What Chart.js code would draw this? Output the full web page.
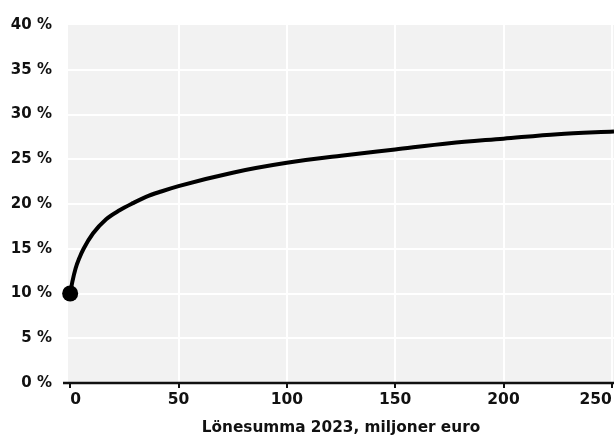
<!DOCTYPE html>
<html lang="sv">
<head>
  <meta charset="UTF-8">
  <title>Lönesumma 2023</title>
  <style>
    html, body { margin: 0; padding: 0; background: #fff; overflow: hidden; }
    canvas { display: block; }
  </style>
</head>
<body>
  <canvas id="chart" width="614" height="441"></canvas>

  <script src="https://cdn.jsdelivr.net/npm/chart.js"></script>
  <script>
    // values (x = miljoner euro, y = procent)
    const payroll = [0, 1, 2.5, 4.3, 6.2, 10.5, 16.6, 22.8, 29, 35, 42, 50, 75, 100, 125, 150, 175, 200, 225, 251];
    const share = [10, 11.3, 12.8, 14.0, 15.0, 16.7, 18.3, 19.3, 20.1, 20.8, 21.4, 22.0, 23.5, 24.6, 25.4, 26.1, 26.8, 27.3, 27.8, 28.1];
    const xTicks = [0, 50, 100, 150, 200, 250];
    const yTicks = [0, 5, 10, 15, 20, 25, 30, 35, 40];
    const xTitle = 'Lönesumma 2023, miljoner euro';

    const FONT = '"DejaVu Sans", Verdana, sans-serif';

    // gray panel behind the plot + axis line that sticks out a bit to the left
    const panel = {
      id: 'panel',
      beforeDraw(chart) {
        const { ctx, chartArea: a } = chart;
        ctx.save();
        ctx.fillStyle = '#f2f2f2';
        ctx.fillRect(a.left, a.top, a.right - a.left, a.bottom - a.top);
        ctx.restore();
      },
      afterDatasetsDraw(chart) {
        const { ctx, chartArea: a } = chart;
        ctx.save();
        ctx.strokeStyle = '#111';
        ctx.lineWidth = 2.5;
        ctx.beginPath();
        ctx.moveTo(a.left - 5, a.bottom);
        ctx.lineTo(a.right, a.bottom);
        ctx.stroke();
        ctx.restore();
      }
    };

    new Chart(document.getElementById('chart'), {
      type: 'line',
      data: {
        datasets: [{
          data: payroll.map((x, i) => ({ x, y: share[i] })),
          borderColor: '#000',
          borderWidth: 4,
          cubicInterpolationMode: 'monotone',
          pointRadius: payroll.map((x, i) => i === 0 ? 8 : 0),
          pointBackgroundColor: '#000',
          pointBorderWidth: 0,
          clip: false
        }]
      },
      options: {
        responsive: false,
        animation: false,
        layout: { autoPadding: false, padding: { top: 13, right: 0, left: 0, bottom: 4 } },
        plugins: { legend: { display: false }, tooltip: { enabled: false } },
        scales: {
          x: {
            type: 'linear',
            min: -1,
            max: 251,
            afterBuildTicks: s => { s.ticks = xTicks.map(v => ({ value: v })); },
            afterFit: s => { s.paddingLeft = 0; s.paddingRight = 0; },
            grid: {
              color: c => c.tick && c.tick.value === 0 ? 'rgba(0,0,0,0)' : '#fff',
              lineWidth: 2,
              tickColor: '#111',
              tickWidth: 2,
              tickLength: 5
            },
            border: { display: false },
            ticks: {
              align: 'inner',
              color: '#111',
              padding: 3,
              maxRotation: 0,
              font: { family: FONT, size: 15.5, weight: 'bold' }
            },
            title: {
              display: true,
              text: xTitle,
              color: '#111',
              padding: { top: 6, bottom: 0 },
              font: { family: FONT, size: 15.3, weight: 'bold' }
            }
          },
          y: {
            min: 0,
            max: 40,
            afterBuildTicks: s => { s.ticks = yTicks.map(v => ({ value: v })); },
            afterFit: s => { s.width = 68; },
            grid: {
              color: c => c.tick && (c.tick.value === 0 || c.tick.value === 40) ? 'rgba(0,0,0,0)' : '#fff',
              lineWidth: 2,
              drawTicks: false
            },
            border: { display: false },
            ticks: {
              color: '#111',
              padding: 16,
              callback: v => v + ' %',
              font: { family: FONT, size: 15, weight: 'bold' }
            }
          }
        }
      },
      plugins: [panel]
    });
  </script>
</body>
</html>
